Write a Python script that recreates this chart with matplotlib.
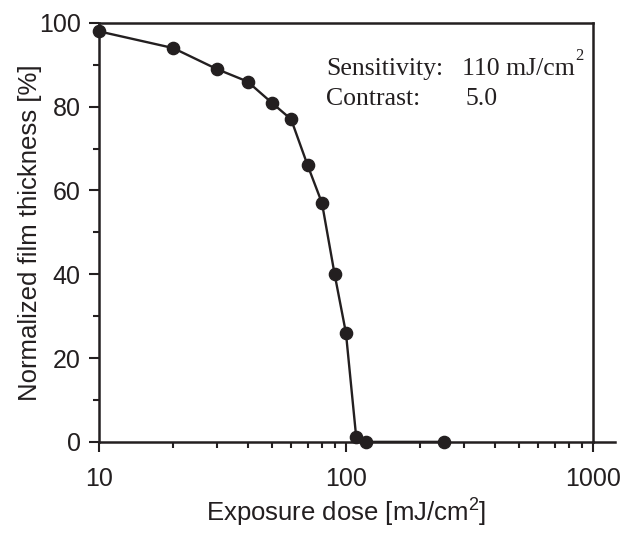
import numpy as np
import matplotlib.pyplot as plt
from matplotlib.ticker import FixedLocator, NullFormatter

plt.rcParams['font.family'] = ['Liberation Sans', 'DejaVu Sans']
plt.rcParams['mathtext.fontset'] = 'custom'
plt.rcParams['mathtext.rm'] = 'Liberation Sans'

# Data
dose = np.array([10, 20, 30, 40, 50, 60, 70, 80, 90, 100, 110, 120, 250])
thickness = np.array([98, 94, 89, 86, 81, 77, 66, 57, 40, 26, 1.2, 0, 0])

y_major = [0, 20, 40, 60, 80, 100]
y_minor = [10, 30, 50, 70, 90]
x_major = [10, 100, 1000]
x_major_labels = ["10", "100", "1000"]

ink = "#231f20"

fig = plt.figure(figsize=(6.25, 5.33), dpi=100)
ax = fig.add_axes([0.158, 0.171, 0.791, 0.786])

ax.plot(dose, thickness, color=ink, linewidth=1.7, marker="o",
        markersize=8.8, markerfacecolor=ink, markeredgecolor=ink, clip_on=False, zorder=3)

ax.set_xscale("log")
ax.set_xlim(10, 1000)
ax.set_ylim(0, 100)

ax.xaxis.set_major_locator(FixedLocator(x_major))
ax.set_xticklabels(x_major_labels)
ax.xaxis.set_minor_locator(FixedLocator([v * d for d in (10, 100) for v in range(2, 10)]))
ax.xaxis.set_minor_formatter(NullFormatter())
ax.yaxis.set_major_locator(FixedLocator(y_major))
ax.yaxis.set_minor_locator(FixedLocator(y_minor))

for s in ax.spines.values():
    s.set_linewidth(1.8)
    s.set_color(ink)

ax.tick_params(which="major", direction="out", length=7, width=1.5, color=ink,
               labelsize=18, labelcolor=ink)
ax.tick_params(which="minor", direction="out", length=4.5, width=1.5, color=ink)
ax.tick_params(axis="x", which="major", pad=11)
ax.tick_params(axis="y", which="major", pad=6)

# x-axis line runs a little past the right spine
ax.plot([1, 1.045], [0, 0], transform=ax.transAxes, color=ink, linewidth=1.8, clip_on=False)

ax.set_xlabel("Exposure dose [mJ/cm$^2$]", fontsize=18.5, color=ink, labelpad=3)
ax.set_ylabel("Normalized film thickness [%]", fontsize=18.5, color=ink, labelpad=-2)

serif = ['Liberation Serif', 'DejaVu Serif']
ax.text(0.46, 0.876, "Sensitivity:", transform=ax.transAxes, fontsize=18.5,
        family=serif, color=ink, va="baseline")
ax.text(0.735, 0.876, "110 mJ/cm", transform=ax.transAxes, fontsize=18.5,
        family=serif, color=ink, va="baseline")
ax.text(0.46, 0.804, "Contrast:", transform=ax.transAxes, fontsize=18.5,
        family=serif, color=ink, va="baseline")
ax.text(0.741, 0.804, "5.0", transform=ax.transAxes, fontsize=18.5,
        family=serif, color=ink, va="baseline")
ax.text(0.963, 0.911, "2", transform=ax.transAxes, fontsize=12,
        family=serif, color=ink, va="baseline")

fig.savefig("out.png", dpi=100)
